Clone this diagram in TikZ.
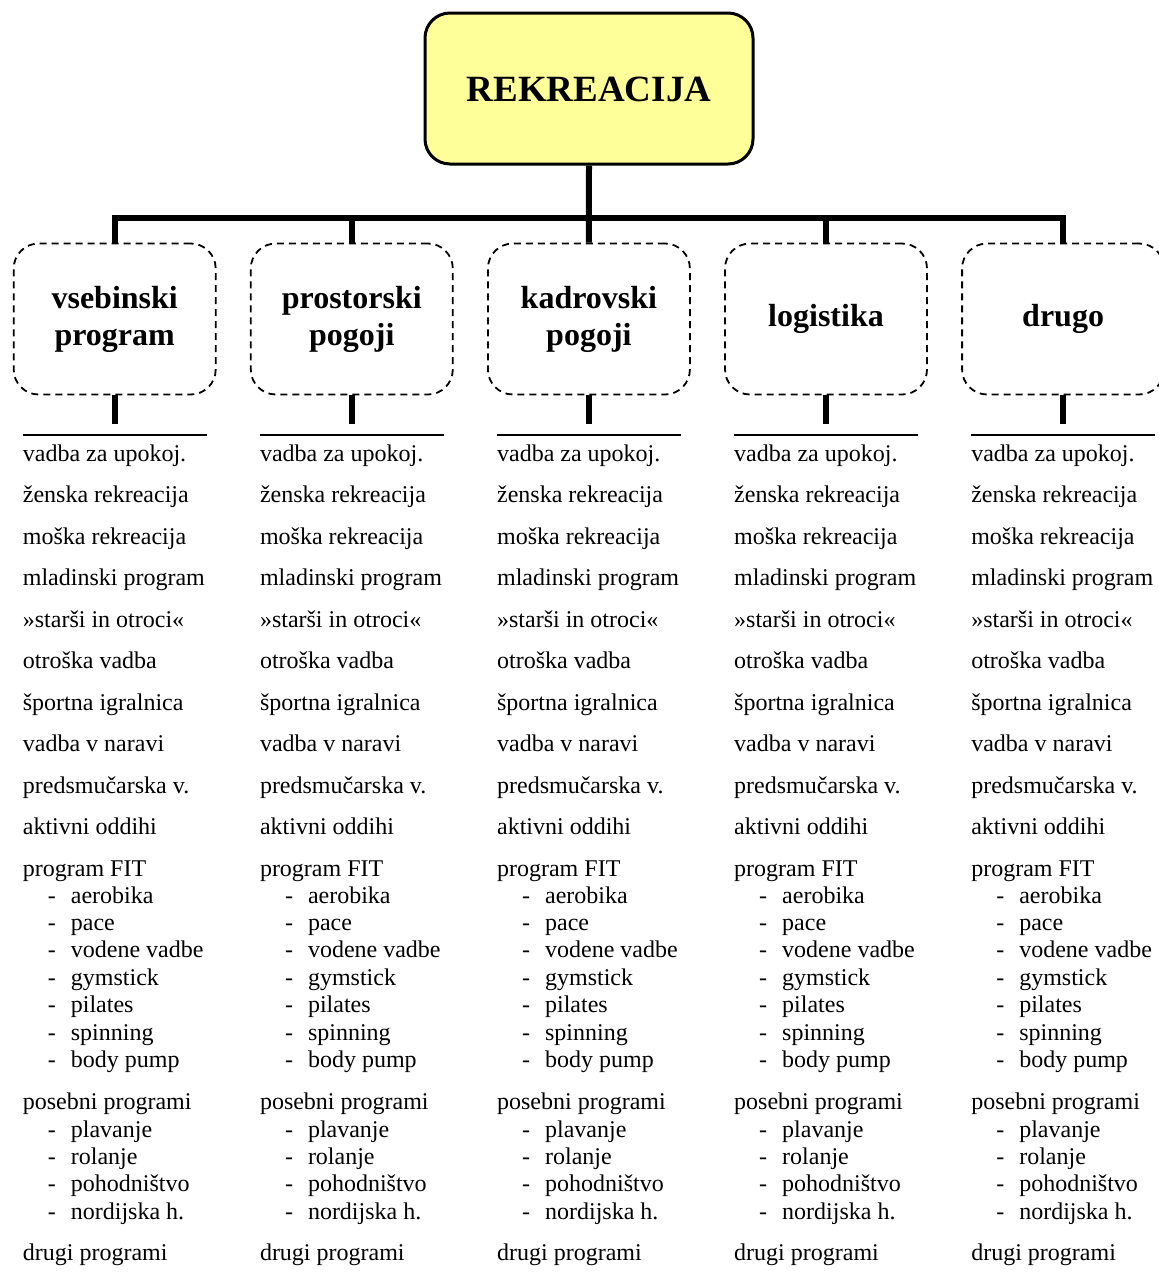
\documentclass[tikz,border=0pt]{standalone}
\usepackage{fontspec}
\setmainfont{Liberation Serif}
\definecolor{topyellow}{HTML}{FFFF99}
\begin{document}
\begin{tikzpicture}[x=1pt,y=-1pt,
  topbox/.style={draw, line width=3pt, rounded corners=25pt, fill=topyellow,
    minimum width=328pt, minimum height=151pt, inner sep=0pt,
    font=\bfseries\fontsize{37}{42}\selectfont, text height=25pt, text depth=0pt},
  dbox/.style={draw, line width=1.8pt, dash pattern=on 7pt off 5pt, rounded corners=25pt,
    minimum width=202pt, minimum height=151pt, inner sep=0pt, align=center,
    font=\bfseries\fontsize{32}{37}\selectfont},
  trunk/.style={line width=6pt, line join=miter},
  rule/.style={line width=2pt},
  item/.style={inner sep=0pt, anchor=base west, font=\fontsize{24}{28}\selectfont}]
\useasboundingbox (0,0) rectangle (1159,1278);
\clip (0,0) rectangle (1159,1278);

\node[topbox] (top) at (589,88.5) {REKREACIJA};

\foreach \lab [count=\i] in {{vsebinski\\program},{prostorski\\pogoji},{kadrovski\\pogoji},{logistika},{drugo}} {
  \pgfmathsetmacro\cx{114.7+237.1*(\i-1)}
  \node[dbox] (b\i) at (\cx,319) {\lab};
  \coordinate (s\i) at (\cx,424);
  \draw[trunk] (b\i.south) -- (s\i);
  \coordinate (ra\i) at ({\cx-92},435);
  \coordinate (rb\i) at ({\cx+92},435);
  \draw[rule] (ra\i) -- (rb\i);
  \foreach \t [count=\k from 0] in {vadba za upokoj.,ženska rekreacija,moška rekreacija,mladinski program,»starši in otroci«,otroška vadba,športna igralnica,vadba v naravi,predsmučarska v.,aktivni oddihi,program FIT} {
    \node[item] (m\i-\k) at ({\cx-92},{461.5+41.45*\k}) {\t};
  }
  \foreach \t [count=\k from 0] in {aerobika,pace,vodene vadbe,gymstick,pilates,spinning,body pump} {
    \node[item] (fd\i-\k) at ({\cx-67},{903+27.4*\k}) {-};
    \node[item] (f\i-\k) at ({\cx-44},{903+27.4*\k}) {\t};
  }
  \node[item] (p\i) at ({\cx-92},1109.5) {posebni programi};
  \foreach \t [count=\k from 0] in {plavanje,rolanje,pohodništvo,nordijska h.} {
    \node[item] (pd\i-\k) at ({\cx-67},{1137+27.4*\k}) {-};
    \node[item] (pp\i-\k) at ({\cx-44},{1137+27.4*\k}) {\t};
  }
  \node[item] (d\i) at ({\cx-92},1260) {drugi programi};
}

\coordinate (bar) at (589,218);
\draw[trunk] (top.south) -- (b3.north);
\draw[trunk] (b1.north) -- (b1.north |- bar) -- (b5.north |- bar) -- (b5.north);
\draw[trunk] (b2.north) -- (b2.north |- bar);
\draw[trunk] (b4.north) -- (b4.north |- bar);
\end{tikzpicture}
\end{document}
